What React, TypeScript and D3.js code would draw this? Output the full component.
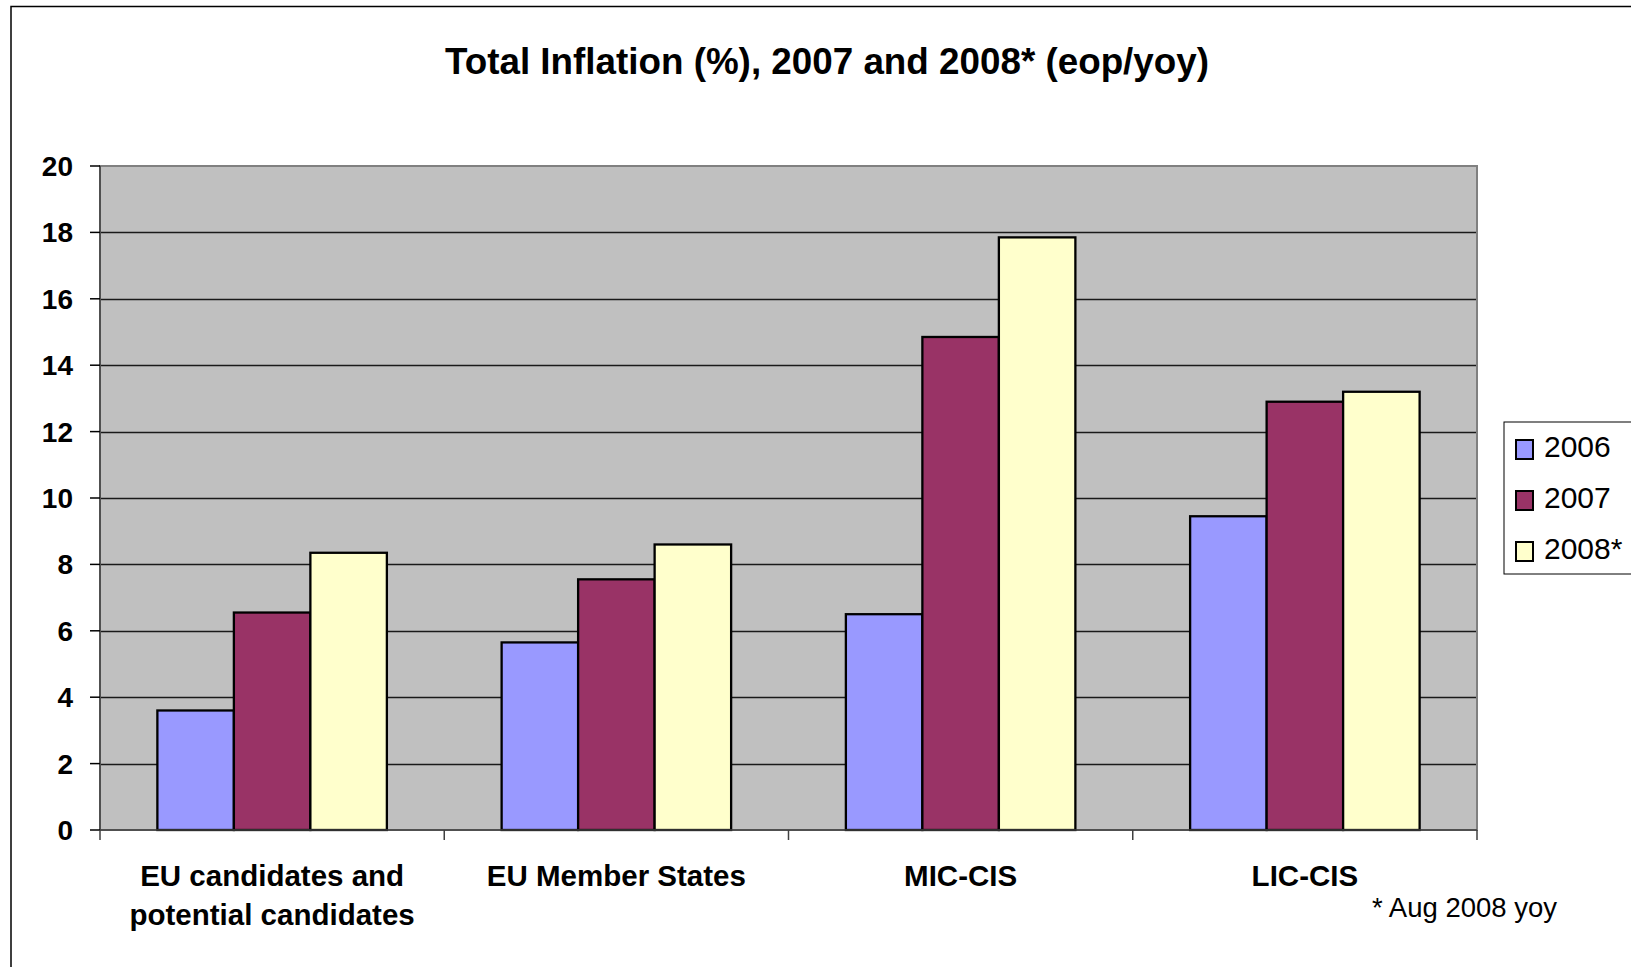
import React from "react";
import * as d3 from "d3";

const categories = ["EU candidates and\npotential candidates", "EU Member States", "MIC-CIS", "LIC-CIS"];
const seriesNames = ["2006", "2007", "2008*"];
const values2006 = [3.6, 5.65, 6.5, 9.45];
const values2007 = [6.55, 7.55, 14.85, 12.9];
const values2008 = [8.35, 8.6, 17.85, 13.2];
const yTicks = [0, 2, 4, 6, 8, 10, 12, 14, 16, 18, 20];
const colors = ["#9999FF", "#993366", "#FFFFCC"];
const title = "Total Inflation (%), 2007 and 2008* (eop/yoy)";
const footnote = "* Aug 2008 yoy";

const W = 1631;
const H = 967;
const plot = { left: 100, right: 1477, top: 166, bottom: 830 };

export default function App() {
  const seriesValues = [values2006, values2007, values2008];
  const x0 = d3.scaleBand<number>().domain(categories.map((_, i) => i)).range([plot.left, plot.right]).padding(0);
  const bw = x0.bandwidth();
  const w = bw / 4.5;
  const x1 = d3.scaleBand<number>().domain([0, 1, 2]).range([0.75 * w, 3.75 * w]).padding(0);
  const y = d3.scaleLinear().domain([0, 20]).range([plot.bottom, plot.top]);
  const font = "'Liberation Sans', Arial, sans-serif";

  return (
    <svg width={W} height={H} style={{ position: "absolute", left: 0, top: 0, background: "#fff" }} fontFamily={font}>
      <rect x={11} y={6.5} width={1700} height={1100} fill="#fff" stroke="#000" strokeWidth={1.5} />
      <text x={827} y={74} textAnchor="middle" fontWeight="bold" fontSize={36.8}>{title}</text>

      <rect x={plot.left} y={plot.top} width={plot.right - plot.left} height={plot.bottom - plot.top} fill="#C0C0C0" />
      {yTicks.filter((t) => t > 0 && t < 20).map((t) => (
        <line key={"g" + t} x1={plot.left} x2={plot.right} y1={Math.round(y(t)) + 0.5} y2={Math.round(y(t)) + 0.5} stroke="#1a1a1a" strokeWidth={1.3} />
      ))}
      <rect x={plot.left} y={plot.top} width={plot.right - plot.left} height={plot.bottom - plot.top} fill="none" stroke="#808080" strokeWidth={2} />

      {seriesValues.map((vals, s) =>
        vals.map((v, i) => (
          <rect key={s + "-" + i} x={(x0(i) as number) + (x1(s) as number)} y={y(v)} width={x1.bandwidth()} height={y(0) - y(v)} fill={colors[s]} stroke="#000" strokeWidth={2.3} />
        ))
      )}

      <line x1={plot.left} x2={plot.left} y1={plot.top} y2={plot.bottom} stroke="#404040" strokeWidth={1.5} />
      <line x1={plot.left} x2={plot.right} y1={plot.bottom} y2={plot.bottom} stroke="#404040" strokeWidth={1.5} />
      {yTicks.map((t) => (
        <g key={"y" + t}>
          <line x1={plot.left - 10} x2={plot.left} y1={y(t)} y2={y(t)} stroke="#000" strokeWidth={1.5} />
          <text x={73} y={y(t) + 10} textAnchor="end" fontWeight="bold" fontSize={28}>{t}</text>
        </g>
      ))}
      {[0, 1, 2, 3, 4].map((i) => {
        const xx = i < 4 ? (x0(i) as number) : plot.right;
        return <line key={"xt" + i} x1={xx} x2={xx} y1={plot.bottom} y2={plot.bottom + 10} stroke="#404040" strokeWidth={1.5} />;
      })}
      {categories.map((c, i) => {
        const cx = (x0(i) as number) + bw / 2;
        return c.split("\n").map((line, j) => (
          <text key={"c" + i + j} x={cx} y={886 + j * 39} textAnchor="middle" fontWeight="bold" fontSize={29.5}>{line}</text>
        ));
      })}
      <text x={1372} y={917} fontSize={27.5}>{footnote}</text>

      <rect x={1504} y={422} width={200} height={152} fill="#fff" stroke="#000" strokeWidth={1} />
      {seriesNames.map((n, s) => (
        <g key={"l" + s}>
          <rect x={1516} y={440 + s * 51} width={17} height={19} fill={colors[s]} stroke="#000" strokeWidth={2} />
          <text x={1544} y={457 + s * 51} fontSize={30}>{n}</text>
        </g>
      ))}
    </svg>
  );
}
